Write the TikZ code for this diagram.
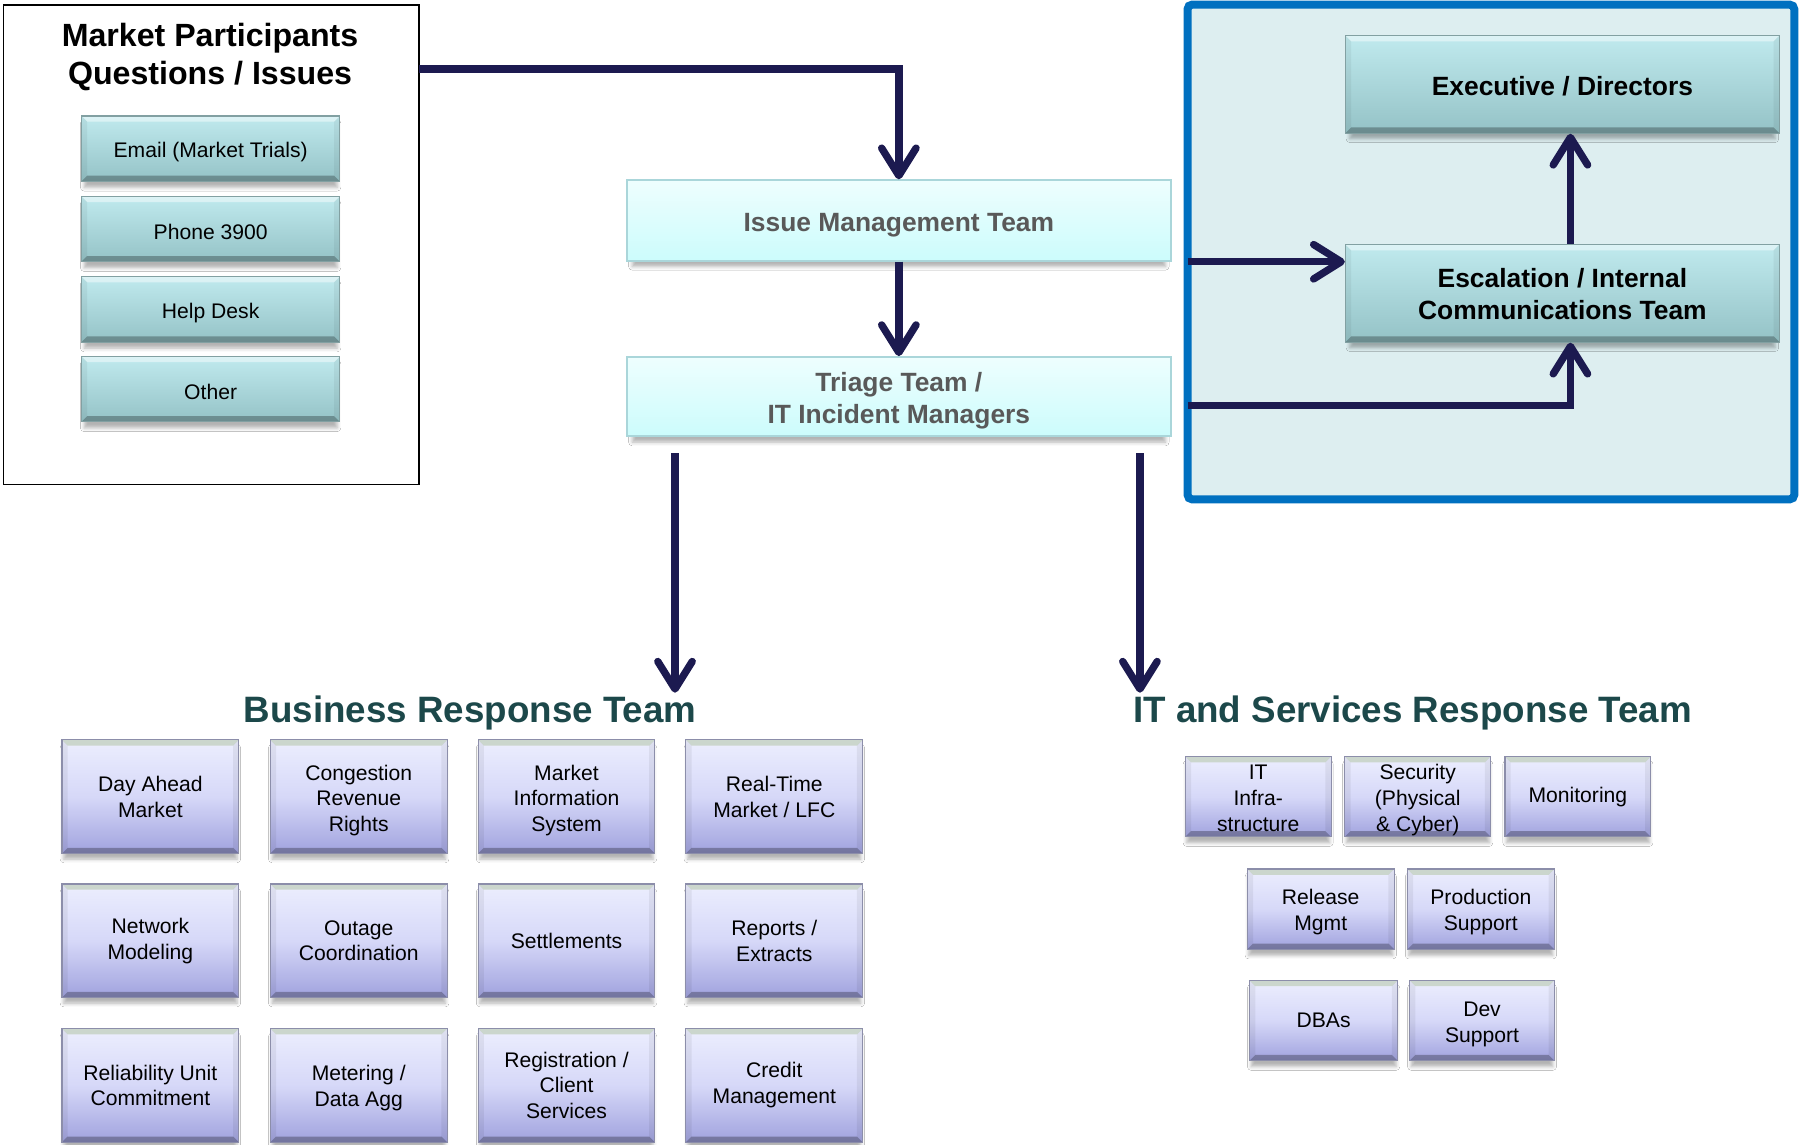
\documentclass[tikz,border=0pt]{standalone}
\usepackage{fontspec}
\setmainfont{Liberation Sans}
\usetikzlibrary{arrows.meta,shadows.blur,calc}
\definecolor{navyc}{RGB}{28,26,80}
\definecolor{tealT}{RGB}{192,234,238}
\definecolor{tealB}{RGB}{148,194,198}
\definecolor{tealE}{RGB}{130,160,162}
\definecolor{cyanT}{RGB}{238,254,254}
\definecolor{cyanB}{RGB}{204,252,252}
\definecolor{cyanE}{RGB}{170,214,218}
\definecolor{lavT}{RGB}{236,238,254}
\definecolor{lavM}{RGB}{214,216,248}
\definecolor{lavB}{RGB}{160,162,222}
\definecolor{lavE}{RGB}{140,142,170}
\definecolor{bevG}{RGB}{200,212,200}
\definecolor{blueB}{RGB}{0,112,192}
\definecolor{blueF}{RGB}{221,238,240}
\definecolor{headC}{RGB}{28,72,74}
\definecolor{grayT}{RGB}{89,89,89}
\tikzset{
  bev/.style n args={3}{path picture={
    \fill[#1] (path picture bounding box.north west) -- (path picture bounding box.north east)
      -- ([xshift=-2.5pt,yshift=-2.5pt]path picture bounding box.north east)
      -- ([xshift=2.5pt,yshift=-2.5pt]path picture bounding box.north west) -- cycle;
    \fill[#2] (path picture bounding box.south west) -- (path picture bounding box.south east)
      -- ([xshift=-2.5pt,yshift=2.5pt]path picture bounding box.south east)
      -- ([xshift=2.5pt,yshift=2.5pt]path picture bounding box.south west) -- cycle;
    \fill[#3] (path picture bounding box.north west) -- ([xshift=2.5pt,yshift=-2.5pt]path picture bounding box.north west)
      -- ([xshift=2.5pt,yshift=2.5pt]path picture bounding box.south west) -- (path picture bounding box.south west) -- cycle;
    \fill[#3] (path picture bounding box.north east) -- ([xshift=-2.5pt,yshift=-2.5pt]path picture bounding box.north east)
      -- ([xshift=-2.5pt,yshift=2.5pt]path picture bounding box.south east) -- (path picture bounding box.south east) -- cycle;
  }},
  shad/.style={blur shadow={shadow xshift=0pt,shadow yshift=-3pt,shadow scale=0.98,shadow blur radius=1.6pt,shadow opacity=30}},
  arr/.style={draw=navyc, line width=3.2pt, -{Straight Barb[length=12pt,width=15pt,line cap=round,line join=round]}},
  tealbox/.style={draw=tealE, line width=0.5pt, top color=tealT, bottom color=tealB, shad,
    bev={white,opacity=0.45}{black,opacity=0.28}{black,opacity=0.05}, align=center, inner sep=0pt},
  chan/.style={tealbox, minimum width=112.5pt, minimum height=28.5pt, font=\fontsize{9.2}{11.25}\selectfont},
  escbox/.style={tealbox, minimum width=189pt, minimum height=42.5pt, font=\fontsize{11.5}{14}\selectfont\bfseries},
  cyanbox/.style={draw=cyanE, line width=0.8pt, top color=cyanT, bottom color=cyanB, shad, align=center,
    minimum width=237pt, minimum height=35pt, inner sep=0pt, text=grayT, font=\fontsize{11.5}{14}\selectfont\bfseries},
  lavbox/.style={draw=lavE, line width=0.5pt, top color=lavT, bottom color=lavB, middle color=lavM, shad,
    bev={bevG,opacity=0.9}{black,opacity=0.28}{black,opacity=0.06}, align=center, inner sep=0pt,
    font=\fontsize{9.2}{11.25}\selectfont},
  bbox/.style={lavbox, minimum width=77pt, minimum height=49.5pt},
  ibox/.style={lavbox, minimum width=#1, minimum height=35pt},
  ibox/.default=63.5pt,
  head/.style={font=\fontsize{16}{19}\selectfont\bfseries, text=headC, inner sep=1pt}
}
\newcommand{\upst}[1]{\rule{0pt}{#1}}
\begin{document}
\begin{tikzpicture}[x=0.5pt,y=-0.5pt]
\fill[white] (0,0) rectangle (1568,997);
\useasboundingbox (0,0) rectangle (1568,997);

% Market participants frame
\node[draw=black, line width=0.8pt, minimum width=181pt, minimum height=209pt, outer sep=0pt, inner sep=0pt] (mp) at (184,213) {};
\node[font=\fontsize{14}{16.8}\selectfont\bfseries, align=center] (mpt) at (183,49.5) {Market Participants\\Questions / Issues};
\node[chan] (email) at (183.5,129.5) {\upst{9.5pt}Email (Market Trials)};
\node[chan] (phone) at (183.5,199.5) {\upst{9.5pt}Phone 3900};
\node[chan] (help)  at (183.5,269.5) {\upst{9.5pt}Help Desk};
\node[chan] (other) at (183.5,339) {\upst{9.5pt}Other};

% Escalation frame
\node[draw=blueB, line width=3.5pt, fill=blueF, rounded corners=2pt, outer sep=0pt, inner sep=0pt,
  minimum width=264.25pt, minimum height=215.5pt] (esb) at (1298.75,219.5) {};
\node[escbox] (exe) at (1361,73.5) {\upst{10pt}Executive / Directors};
\node[escbox] (esc) at (1361,255.5) {\upst{9pt}Escalation / Internal\\Communications Team};

% Issue / triage
\node[cyanbox] (imt) at (783,192) {\upst{12.3pt}Issue Management Team};
\node[cyanbox, minimum height=34.5pt] (tri) at (783,345.5) {\upst{12pt}Triage Team /\\IT Incident Managers};

% Headings
\node[head, anchor=base] (brt) at (409.5,629) {Business Response Team};
\node[head, anchor=base] (itt) at (1230.5,629) {IT and Services Response Team};

% Business boxes
\node[bbox] (b11) at (131,694) {Day Ahead\\Market};
\node[bbox] (b12) at (312.5,694) {\upst{10pt}Congestion\\Revenue\\Rights};
\node[bbox] (b13) at (493.5,694) {\upst{10pt}Market\\Information\\System};
\node[bbox] (b14) at (674.5,694) {Real-Time\\Market / LFC};
\node[bbox] (b21) at (131,819.5) {Network\\Modeling};
\node[bbox] (b22) at (312.5,819.5) {Outage\\Coordination};
\node[bbox] (b23) at (493.5,819.5) {Settlements};
\node[bbox] (b24) at (674.5,819.5) {Reports /\\Extracts};
\node[bbox] (b31) at (131,945.5) {Reliability Unit\\Commitment};
\node[bbox] (b32) at (312.5,945.5) {\upst{8.8pt}Metering /\\Data Agg};
\node[bbox] (b33) at (493.5,945.5) {Registration /\\Client\\Services};
\node[bbox] (b34) at (674.5,945.5) {Credit\\Management};

% IT boxes
\node[ibox] (i11) at (1096,694) {\upst{7.5pt}IT\\Infra-\\structure};
\node[ibox] (i12) at (1235,694) {\upst{9.8pt}Security\\(Physical\\\& Cyber)};
\node[ibox] (i13) at (1374.5,694) {Monitoring};
\node[ibox=64pt] (i21) at (1150.5,792) {\upst{9.2pt}Release\\Mgmt};
\node[ibox=64pt] (i22) at (1290,792) {\upst{9.2pt}Production\\Support};
\node[ibox=64.5pt] (i31) at (1153,889) {DBAs};
\node[ibox=63pt] (i32) at (1291,889) {\upst{9.6pt}Dev\\Support};

% Connectors
\coordinate (j1) at (783,60);
\draw[arr] (mp.east |- j1) -- (j1) -- (imt.north);
\draw[arr] (imt.south) -- (tri.north);
\coordinate (s3) at (1034.5,228);
\draw[arr] (esb.west |- s3) -- (esc.west |- s3);
\coordinate (vx) at (1368,0);
\draw[arr] (esc.north -| vx) -- (exe.south -| vx);
\coordinate (s5) at (1034.5,353);
\draw[arr] (esb.west |- s5) -| (esc.south -| vx);
\coordinate (d1) at (588,395);
\coordinate (d2) at (993,395);
\draw[arr] (d1) -- (brt.north -| d1);
\draw[arr] (d2) -- (itt.north -| d2);
\end{tikzpicture}
\end{document}
